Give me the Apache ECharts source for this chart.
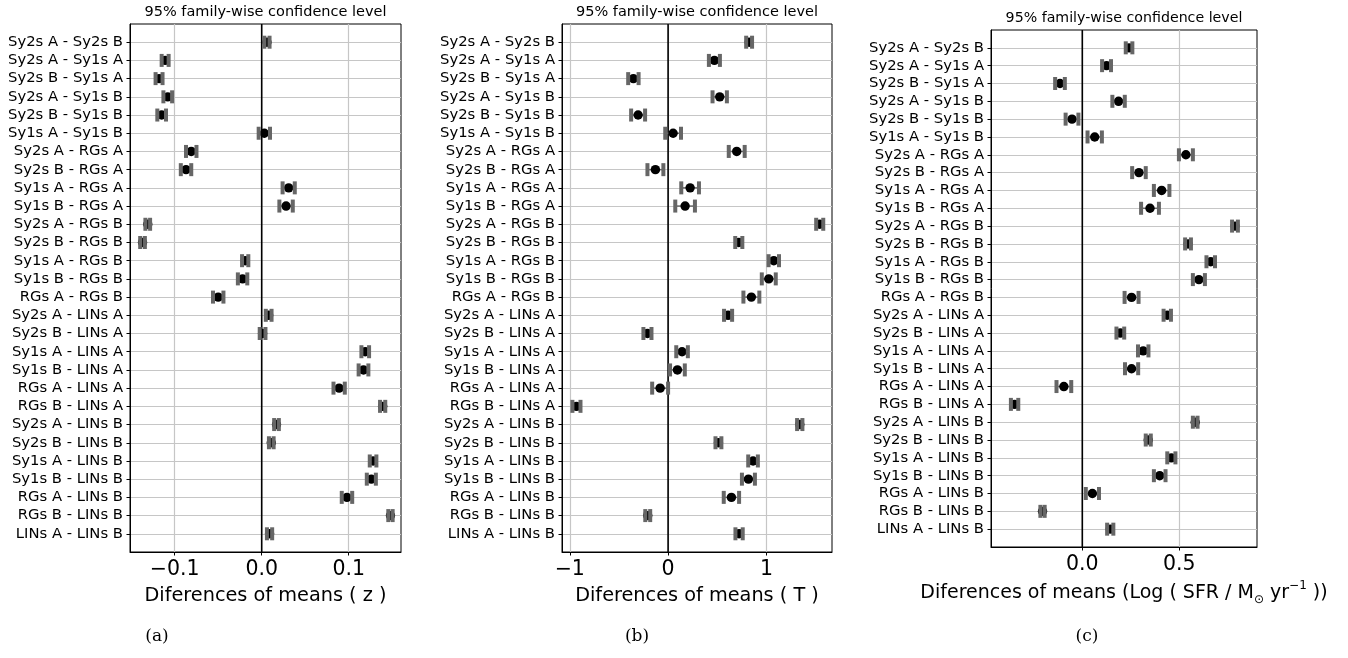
<!DOCTYPE html>
<html>
<head>
<meta charset="utf-8">
<script src="https://cdn.jsdelivr.net/npm/echarts@6/dist/echarts.min.js"></script>
<style>
  html, body { margin: 0; padding: 0; background: #fff; }
  #chart { width: 1348px; height: 658px; }
</style>
</head>
<body>
<div id="chart"></div>
<script>
// Pairwise comparisons (Tukey HSD), top to bottom
const comparisons = [
  'Sy2s A - Sy2s B', 'Sy2s A - Sy1s A', 'Sy2s B - Sy1s A', 'Sy2s A - Sy1s B',
  'Sy2s B - Sy1s B', 'Sy1s A - Sy1s B', 'Sy2s A - RGs A', 'Sy2s B - RGs A',
  'Sy1s A - RGs A', 'Sy1s B - RGs A', 'Sy2s A - RGs B', 'Sy2s B - RGs B',
  'Sy1s A - RGs B', 'Sy1s B - RGs B', 'RGs A - RGs B', 'Sy2s A - LINs A',
  'Sy2s B - LINs A', 'Sy1s A - LINs A', 'Sy1s B - LINs A', 'RGs A - LINs A',
  'RGs B - LINs A', 'Sy2s A - LINs B', 'Sy2s B - LINs B', 'Sy1s A - LINs B',
  'Sy1s B - LINs B', 'RGs A - LINs B', 'RGs B - LINs B', 'LINs A - LINs B'
];

// (a) redshift z: mean differences and CI half-widths
const meanZ = [0.006, -0.111, -0.118, -0.108, -0.115, 0.003, -0.081, -0.087, 0.031, 0.028,
  -0.131, -0.137, -0.019, -0.022, -0.050, 0.008, 0.001, 0.119, 0.117, 0.089,
  0.139, 0.017, 0.011, 0.128, 0.126, 0.098, 0.148, 0.009];
const halfZ = [0.003, 0.004, 0.004, 0.005, 0.005, 0.0065, 0.006, 0.006, 0.007, 0.0077,
  0.0027, 0.0027, 0.0036, 0.0054, 0.006, 0.0033, 0.0033, 0.0044, 0.0056, 0.0065,
  0.003, 0.0027, 0.0027, 0.0038, 0.0052, 0.006, 0.0025, 0.003];

// (b) morphological type T
const meanT = [0.824, 0.471, -0.353, 0.525, -0.305, 0.051, 0.698, -0.129, 0.224, 0.173,
  1.542, 0.719, 1.075, 1.024, 0.847, 0.610, -0.210, 0.142, 0.095, -0.081,
  -0.932, 1.339, 0.512, 0.864, 0.817, 0.644, -0.207, 0.722];
const halfT = [0.030, 0.056, 0.053, 0.073, 0.071, 0.080, 0.081, 0.081, 0.090, 0.100,
  0.036, 0.036, 0.053, 0.071, 0.081, 0.041, 0.041, 0.059, 0.075, 0.081,
  0.041, 0.027, 0.030, 0.049, 0.066, 0.078, 0.025, 0.037];

// (c) log SFR
const meanSFR = [0.241, 0.125, -0.115, 0.187, -0.053, 0.064, 0.534, 0.292, 0.409, 0.349,
  0.787, 0.545, 0.662, 0.601, 0.254, 0.438, 0.196, 0.314, 0.254, -0.095,
  -0.349, 0.582, 0.340, 0.459, 0.399, 0.052, -0.205, 0.144];
const halfSFR = [0.017, 0.023, 0.025, 0.032, 0.033, 0.037, 0.036, 0.035, 0.040, 0.046,
  0.015, 0.015, 0.022, 0.031, 0.036, 0.019, 0.020, 0.027, 0.034, 0.038,
  0.019, 0.012, 0.013, 0.021, 0.030, 0.034, 0.011, 0.016];

// x tick values per panel
const ticksZ = [-0.1, 0.0, 0.1];
const ticksT = [-1, 0, 1];
const ticksSFR = [0.0, 0.5];

const titleText = '95% family-wise confidence level';
const FONT = '"DejaVu Sans", sans-serif';
const rows = comparisons.map((_, i) => i);

function uminus(s) { return s.replace('-', '\u2212'); }

function renderErr(params, api) {
  const m = api.value(0), h = api.value(1), r = api.value(2);
  const lo = api.coord([m - h, r]);
  const hi = api.coord([m + h, r]);
  const c = api.coord([m, r]);
  const capW = 4, capH = 13;
  return {
    type: 'group',
    children: [
      { type: 'line', shape: { x1: lo[0], y1: lo[1], x2: hi[0], y2: hi[1] },
        style: { stroke: '#666', lineWidth: 1.5 } },
      { type: 'circle', shape: { cx: c[0], cy: c[1], r: 4.7 }, style: { fill: '#000' } },
      { type: 'rect', shape: { x: lo[0] - capW / 2, y: lo[1] - capH / 2, width: capW, height: capH },
        style: { fill: '#666' } },
      { type: 'rect', shape: { x: hi[0] - capW / 2, y: hi[1] - capH / 2, width: capW, height: capH },
        style: { fill: '#666' } }
    ]
  };
}

const grids = [
  { left: 130, right: 1348 - 401, top: 24, bottom: 658 - 552 },
  { left: 562, right: 1348 - 832, top: 24, bottom: 658 - 552 },
  { left: 991, right: 1348 - 1257, top: 30, bottom: 658 - 547 }
];

const gridLine = { show: true, lineStyle: { color: '#c6c6c6', width: 1.2 } };

function makeX(idx, min, max, ticks, fmt, name, extra) {
  return Object.assign({
    type: 'value', gridIndex: idx, min: min, max: max, splitNumber: 3,
    axisLine: { show: true, onZero: false, lineStyle: { color: '#000', width: 1 } },
    axisTick: { show: true, length: 3.5, customValues: ticks, lineStyle: { color: '#000', width: 1 } },
    axisLabel: { customValues: ticks, formatter: fmt, fontSize: 20.5, fontFamily: FONT, color: '#000', margin: 7 },
    splitLine: gridLine,
    name: name, nameLocation: 'middle', nameGap: 34,
    nameTextStyle: { fontSize: 19.3, fontFamily: FONT, color: '#000' }
  }, extra || {});
}

function makeY(idx) {
  return {
    type: 'value', gridIndex: idx, inverse: true, min: -1, max: 28, interval: 1,
    axisLine: { show: true, onZero: false, lineStyle: { color: '#000', width: 1 } },
    axisTick: { show: true, length: 3.5, customValues: rows, lineStyle: { color: '#000', width: 1 } },
    axisLabel: { customValues: rows, formatter: v => comparisons[v] || '',
      fontSize: 14.8, fontFamily: FONT, color: '#000', margin: 7 },
    splitLine: gridLine
  };
}

function errData(means, halves) {
  return means.map((m, i) => [m, halves[i], i]);
}

function zeroLine(idx) {
  return {
    type: 'line', xAxisIndex: idx, yAxisIndex: idx, data: [[0, -1], [0, 28]],
    symbol: 'none', silent: true, z: 3,
    lineStyle: { color: '#000', width: 1.6 }
  };
}

function errSeries(idx, means, halves) {
  return {
    type: 'custom', xAxisIndex: idx, yAxisIndex: idx, renderItem: renderErr,
    encode: { x: 0, y: 2 }, data: errData(means, halves), z: 4, silent: true
  };
}

const option = {
  animation: false,
  backgroundColor: '#fff',
  grid: grids.map(g => Object.assign({ show: true, borderColor: '#000', borderWidth: 1 }, g)),
  xAxis: [
    makeX(0, -0.1514, 0.1601, ticksZ, v => uminus(v.toFixed(1)), 'Diferences of means ( z )'),
    makeX(1, -1.079, 1.667, ticksT, v => uminus(String(Math.round(v))), 'Diferences of means ( T )'),
    makeX(2, -0.4706, 0.9005, ticksSFR, v => uminus(v.toFixed(1)),
      '{n|Diferences of means (Log ( SFR / M}{sub|\u2299}{n| yr}{sup|\u22121}{n| ))}',
      { nameGap: 33,
        nameTextStyle: { fontSize: 19, fontFamily: FONT, color: '#000',
          rich: {
            n: { fontSize: 19, fontFamily: FONT, color: '#000', lineHeight: 26 },
            sub: { fontSize: 12, fontFamily: FONT, color: '#000', lineHeight: 12, verticalAlign: 'bottom' },
            sup: { fontSize: 12, fontFamily: FONT, color: '#000', lineHeight: 12, verticalAlign: 'top' }
          } } })
  ],
  yAxis: [makeY(0), makeY(1), makeY(2)],
  series: [
    zeroLine(0), errSeries(0, meanZ, halfZ),
    zeroLine(1), errSeries(1, meanT, halfT),
    zeroLine(2), errSeries(2, meanSFR, halfSFR)
  ],
  graphic: [
    { type: 'text', x: 265.5, y: 12, style: { text: titleText, font: '14.5px ' + FONT, fill: '#000',
      textAlign: 'center', textVerticalAlign: 'middle', align: 'center', verticalAlign: 'middle' } },
    { type: 'text', x: 697, y: 12, style: { text: titleText, font: '14.5px ' + FONT, fill: '#000',
      textAlign: 'center', textVerticalAlign: 'middle', align: 'center', verticalAlign: 'middle' } },
    { type: 'text', x: 1124, y: 18, style: { text: titleText, font: '14.2px ' + FONT, fill: '#000',
      textAlign: 'center', textVerticalAlign: 'middle', align: 'center', verticalAlign: 'middle' } },
    { type: 'text', x: 157, y: 637, style: { text: '(a)', font: '17px "DejaVu Serif", serif', fill: '#000',
      textAlign: 'center', textVerticalAlign: 'middle', align: 'center', verticalAlign: 'middle' } },
    { type: 'text', x: 637, y: 637, style: { text: '(b)', font: '17px "DejaVu Serif", serif', fill: '#000',
      textAlign: 'center', textVerticalAlign: 'middle', align: 'center', verticalAlign: 'middle' } },
    { type: 'text', x: 1087, y: 637, style: { text: '(c)', font: '17px "DejaVu Serif", serif', fill: '#000',
      textAlign: 'center', textVerticalAlign: 'middle', align: 'center', verticalAlign: 'middle' } }
  ]
};

const chart = echarts.init(document.getElementById('chart'), null, { renderer: 'canvas' });
chart.setOption(option);
</script>
</body>
</html>
